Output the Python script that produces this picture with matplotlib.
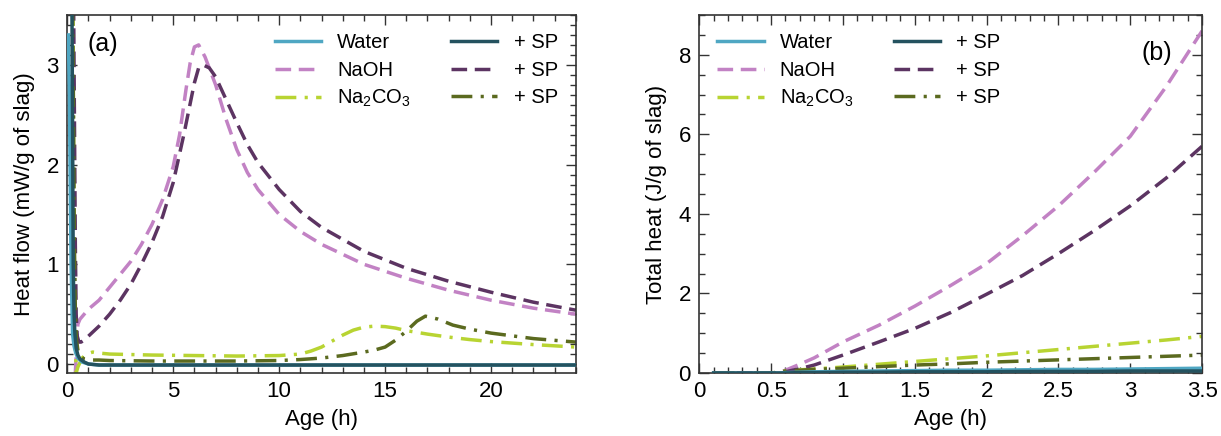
import matplotlib
matplotlib.use("Agg")
import matplotlib.pyplot as plt
from matplotlib.ticker import MultipleLocator, FuncFormatter

plt.rcParams["font.family"] = ["Liberation Sans", "DejaVu Sans"]
plt.rcParams["mathtext.fontset"] = "custom"
plt.rcParams["mathtext.rm"] = "Liberation Sans"

# colours
C_WATER, C_WATER_SP = "#4fa7c3", "#24525f"
C_NAOH, C_NAOH_SP = "#c282c4", "#5c3462"
C_CARB, C_CARB_SP = "#b8d432", "#5b6a1f"

# ---- (a) heat flow, mW/g of slag ----
t_water = [0.05, 0.1, 0.13, 0.18, 0.25, 0.32, 0.4, 0.5, 0.7, 1.0, 1.5, 24]
q_water = [3.3, 2.7, 2.0, 1.0, 0.3, 0.18, 0.11, 0.06, 0.02, 0.0, -0.01, -0.01]

t_water_sp = [0.22, 0.25, 0.28, 0.32, 0.36, 0.42, 0.5, 0.6, 0.8, 1.0, 1.5, 24]
q_water_sp = [3.6, 2.4, 1.0, 0.5, 0.3, 0.16, 0.09, 0.05, 0.02, 0.0, -0.01, -0.01]

t_naoh = [0.38, 0.45, 0.5, 0.6, 0.8, 1.0, 1.5, 2.0, 2.5, 3.0, 3.5, 4.0, 4.5, 5.0, 5.3, 5.6, 5.8, 6.0, 6.2, 6.5, 7.0,
          7.5, 8.0, 8.5, 9.0, 10.0, 11.0, 12.0, 14.0, 16.0, 18.0, 20.0, 22.0, 24.0]
q_naoh = [-0.09, 0.2, 0.4, 0.45, 0.5, 0.55, 0.64, 0.77, 0.9, 1.03, 1.2, 1.4, 1.65, 1.98, 2.3, 2.75, 3.02, 3.18, 3.2, 3.08, 2.8,
          2.45, 2.15, 1.92, 1.75, 1.5, 1.33, 1.2, 1.0, 0.86, 0.74, 0.64, 0.56, 0.5]

t_naoh_sp = [0.3, 0.34, 0.38, 0.42, 0.47, 0.55, 0.65, 0.8, 1.0, 1.5, 2.0, 2.5, 3.0, 3.5, 4.0, 4.5, 5.0, 5.5, 6.0, 6.2, 6.4,
             6.7, 7.0, 7.5, 8.0, 8.5, 9.0, 10.0, 11.0, 12.0, 14.0, 16.0, 18.0, 20.0, 22.0, 24.0]
q_naoh_sp = [3.6, 2.4, 1.2, 0.5, 0.28, 0.22, 0.22, 0.24, 0.28, 0.38, 0.5, 0.64, 0.8, 1.0, 1.22, 1.48, 1.82, 2.3, 2.82, 2.97, 3.0,
             2.97, 2.88, 2.65, 2.42, 2.2, 2.02, 1.75, 1.53, 1.37, 1.13, 0.96, 0.83, 0.72, 0.62, 0.54]

t_carb = [0.27, 0.3, 0.34, 0.38, 0.42, 0.5, 0.7, 0.9, 1.2, 1.5, 2.0, 3.0, 4.0, 6.0, 8.0, 10.0, 11.0, 11.5, 12.0, 12.5,
          13.0, 13.5, 14.0, 14.5, 15.0, 15.5, 16.0, 17.0, 18.0, 19.0, 20.0, 22.0, 24.0]
q_carb = [3.6, 2.0, 0.8, 0.2, -0.09, -0.03, 0.06, 0.1, 0.12, 0.11, 0.1, 0.095, 0.09, 0.085, 0.08, 0.085, 0.1, 0.13, 0.17, 0.23,
          0.29, 0.34, 0.37, 0.38, 0.375, 0.36, 0.335, 0.3, 0.27, 0.245, 0.225, 0.195, 0.17]

t_carb_sp = [0.25, 0.29, 0.33, 0.38, 0.43, 0.5, 0.6, 0.8, 1.0, 1.5, 2.0, 4.0, 6.0, 8.0, 10.0, 11.0, 12.0, 13.0, 14.0,
             14.5, 15.0, 15.5, 16.0, 16.5, 16.9, 17.5, 18.2, 19.0, 20.0, 22.0, 24.0]
q_carb_sp = [3.6, 2.6, 1.3, 0.55, 0.25, 0.14, 0.08, 0.05, 0.04, 0.04, 0.035, 0.03, 0.03, 0.03, 0.035, 0.045, 0.06, 0.085, 0.12,
             0.14, 0.17, 0.24, 0.33, 0.43, 0.48, 0.45, 0.39, 0.35, 0.31, 0.255, 0.22]

# ---- (b) total heat, J/g of slag ----
t_cum = [0.1, 0.3, 0.5, 0.55, 0.6, 0.7, 0.8, 1.0, 1.25, 1.5, 1.75, 2.0, 2.25, 2.5, 2.75, 3.0, 3.25, 3.5]
h_water = [0.0, 0.0, 0.0, 0.0, 0.01, 0.02, 0.03, 0.04, 0.05, 0.06, 0.07, 0.07, 0.08, 0.09, 0.09, 0.1, 0.11, 0.12]
h_water_sp = [0.0, 0.0, 0.0, 0.0, 0.0, 0.01, 0.01, 0.02, 0.02, 0.03, 0.03, 0.03, 0.04, 0.04, 0.04, 0.05, 0.05, 0.05]
h_naoh = [0.0, 0.0, 0.0, 0.0, 0.07, 0.22, 0.38, 0.78, 1.2, 1.68, 2.2, 2.75, 3.45, 4.2, 5.05, 5.95, 7.2, 8.6]
h_naoh_sp = [0.0, 0.0, 0.0, 0.0, 0.03, 0.11, 0.2, 0.45, 0.78, 1.12, 1.52, 1.98, 2.45, 3.0, 3.58, 4.2, 4.9, 5.7]
h_carb = [0.0, 0.0, 0.0, 0.02, 0.05, 0.08, 0.1, 0.15, 0.22, 0.29, 0.36, 0.43, 0.51, 0.59, 0.67, 0.75, 0.83, 0.92]
h_carb_sp = [0.0, 0.0, 0.0, 0.02, 0.05, 0.07, 0.09, 0.12, 0.16, 0.2, 0.23, 0.27, 0.3, 0.33, 0.36, 0.39, 0.42, 0.45]

DASH = (0, (4.5, 2.2))
DASHDOT = (0, (6.0, 2.4, 0.9, 2.4))
LW = 2.5
FS = 16

fig = plt.figure(figsize=(12.21, 4.36), dpi=100)
ax1 = fig.add_axes([0.0551, 0.1445, 0.4165, 0.8211])
ax2 = fig.add_axes([0.5727, 0.1445, 0.4118, 0.8211])


def style(ax):
    for s in ax.spines.values():
        s.set_linewidth(1.2)
        s.set_color("#333333")
    ax.tick_params(which="both", direction="in", top=True, right=True, labelsize=FS, width=1.0, color="#333333")
    ax.tick_params(which="major", length=7, pad=6)
    ax.tick_params(which="minor", length=4)


def add_legend(ax, loc, anchor):
    ax.legend(ncol=2, loc=loc, frameon=False, fontsize=14.5, handlelength=2.3, handletextpad=0.8,
              columnspacing=2.0, labelspacing=0.42, bbox_to_anchor=anchor)


# panel (a)
ax1.plot(t_water, q_water, color=C_WATER, lw=LW, label="Water", zorder=3)
ax1.plot(t_naoh, q_naoh, color=C_NAOH, lw=LW, ls=DASH, label="NaOH")
ax1.plot(t_carb, q_carb, color=C_CARB, lw=LW, ls=DASHDOT, label="Na$_2$CO$_3$")
ax1.plot(t_water_sp, q_water_sp, color=C_WATER_SP, lw=LW, label="+ SP", zorder=3)
ax1.plot(t_naoh_sp, q_naoh_sp, color=C_NAOH_SP, lw=LW, ls=DASH, label="+ SP")
ax1.plot(t_carb_sp, q_carb_sp, color=C_CARB_SP, lw=LW, ls=DASHDOT, label="+ SP")
ax1.set_xlim(0, 24)
ax1.set_ylim(-0.09, 3.5)
ax1.xaxis.set_major_locator(MultipleLocator(5))
ax1.xaxis.set_minor_locator(MultipleLocator(1))
ax1.yaxis.set_major_locator(MultipleLocator(1))
ax1.yaxis.set_minor_locator(MultipleLocator(0.1))
ax1.set_xlabel("Age (h)", fontsize=FS, labelpad=5)
ax1.set_ylabel("Heat flow (mW/g of slag)", fontsize=FS, labelpad=8)
style(ax1)
ax1.text(0.04, 0.92, "(a)", transform=ax1.transAxes, fontsize=18, va="center")
add_legend(ax1, "upper right", (1.0, 1.0))

# panel (b)
ax2.plot(t_cum, h_water, color=C_WATER, lw=LW, label="Water", zorder=3)
ax2.plot(t_cum, h_naoh, color=C_NAOH, lw=LW, ls=DASH, label="NaOH")
ax2.plot(t_cum, h_carb, color=C_CARB, lw=LW, ls=DASHDOT, label="Na$_2$CO$_3$")
ax2.plot(t_cum, h_water_sp, color=C_WATER_SP, lw=LW, label="+ SP", zorder=3)
ax2.plot(t_cum, h_naoh_sp, color=C_NAOH_SP, lw=LW, ls=DASH, label="+ SP")
ax2.plot(t_cum, h_carb_sp, color=C_CARB_SP, lw=LW, ls=DASHDOT, label="+ SP")
ax2.set_xlim(0, 3.5)
ax2.set_ylim(0, 9)
ax2.xaxis.set_major_locator(MultipleLocator(0.5))
ax2.xaxis.set_minor_locator(MultipleLocator(0.1))
ax2.yaxis.set_major_locator(MultipleLocator(2))
ax2.yaxis.set_minor_locator(MultipleLocator(0.5))
ax2.xaxis.set_major_formatter(FuncFormatter(lambda v, p: f"{v:g}"))
ax2.set_xlabel("Age (h)", fontsize=FS, labelpad=5)
ax2.set_ylabel("Total heat (J/g of slag)", fontsize=FS, labelpad=8)
style(ax2)
ax2.text(0.88, 0.895, "(b)", transform=ax2.transAxes, fontsize=18, va="center")
add_legend(ax2, "upper left", (0.0, 1.0))

fig.savefig("out.png", dpi=100)
